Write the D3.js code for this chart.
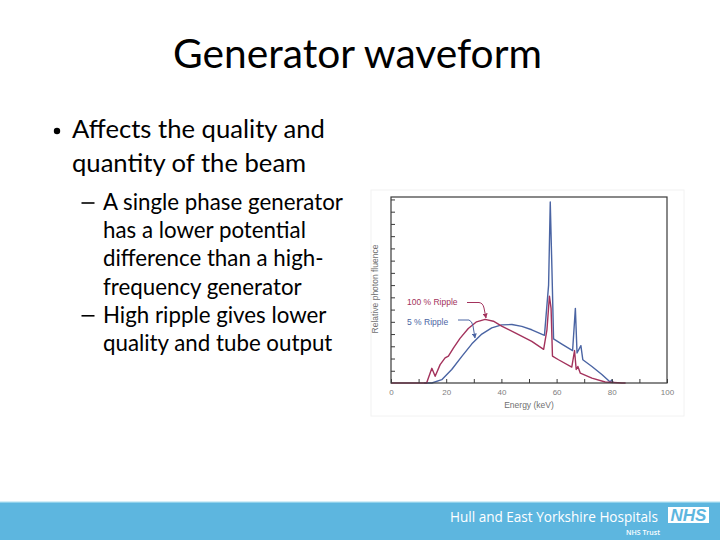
<!DOCTYPE html>
<html>
<head>
<meta charset="utf-8">
<script src="https://cdn.jsdelivr.net/npm/d3@7"></script>
<style>
  body { margin: 0; background: #fff; }
  svg { display: block; }
</style>
</head>
<body>
<div id="slide"></div>
<script>
// spectrum data: energy (keV) and relative fluence
const rippleFullKeV = [0, 12.9, 14.8, 16, 17.8, 19.6, 20.8, 22.6, 25, 28, 31, 34.1, 37.1, 40.1, 45, 51, 55.3,
  56.5, 57.4, 58, 58.5, 60.7, 65.5, 66.5, 67.1, 67.7, 68.6, 72.8, 77.6, 83.7, 85];
const rippleFullVal = [0, 0, 1.2, 0.55, 1.5, 2.05, 2.2, 2.85, 3.65, 4.45, 5.0, 5.2, 5.05, 4.65, 4.1, 3.4, 2.75,
  4.35, 7.1, 6.1, 2.2, 1.9, 1.3, 2.65, 1.1, 1.35, 0.8, 0.4, 0.08, 0, 0];

const rippleLowKeV = [12, 14.8, 18.4, 22, 25.6, 29.3, 32.9, 36.5, 40.1, 43.8, 47.4, 51, 55.6, 57.1, 57.7, 58.3,
  58.9, 61.9, 65.8, 66.8, 67.4, 68.8, 69.5, 72.8, 76.4, 79.4, 80, 80.6];
const rippleLowVal = [0, 0, 0.27, 1.1, 2.15, 3.2, 4.0, 4.5, 4.75, 4.78, 4.63, 4.35, 3.9, 8.0, 14.8, 9.4,
  3.6, 3.18, 2.65, 6.1, 2.45, 3.05, 1.9, 1.35, 0.7, 0.08, 0.25, 0];

const xTickValues = d3.range(0, 101, 10);
const xTickLabels = [0, 20, 40, 60, 80, 100];
const yTickValues = d3.range(1, 16, 1);

const titleText = "Generator waveform";
const bullet1 = ["Affects the quality and", "quantity of the beam"];
const sub1 = ["A single phase generator", "has a lower potential", "difference than a high-", "frequency generator"];
const sub2 = ["High ripple gives lower", "quality and tube output"];

const W = 720, H = 540;
const font = "Lato, 'Open Sans', sans-serif";

const svg = d3.select('#slide').append('svg')
  .attr('width', W)
  .attr('height', H);

// size a text element so it spans the width measured on the reference
function fit(sel, target) {
  const w = sel.node().getComputedTextLength();
  const fs = parseFloat(sel.attr('font-size'));
  sel.attr('font-size', (fs * target / w).toFixed(2));
  return sel;
}

// title
fit(svg.append('text')
  .attr('x', 357.5).attr('y', 68)
  .attr('text-anchor', 'middle')
  .attr('font-family', font).attr('font-size', 38)
  .attr('fill', '#000')
  .text(titleText), 369);

// first level bullet
svg.append('circle').attr('cx', 57).attr('cy', 131).attr('r', 3.2).attr('fill', '#000');
const b1 = bullet1.map((t, i) => svg.append('text')
  .attr('x', 72).attr('y', 138 + i * 34)
  .attr('font-family', font).attr('font-size', 24)
  .attr('fill', '#000').text(t));
fit(b1[0], 253);
b1[1].attr('font-size', b1[0].attr('font-size'));

// second level bullets
const subLines = [];
sub1.concat(sub2).forEach((t, i) => {
  subLines.push(svg.append('text')
    .attr('x', 103).attr('y', 210 + i * 28.2)
    .attr('font-family', font).attr('font-size', 21)
    .attr('fill', '#000').text(t));
});
fit(subLines[0], 240);
subLines.forEach(s => s.attr('font-size', subLines[0].attr('font-size')));
[0, 4].forEach(i => {
  svg.append('line')
    .attr('x1', 81.5).attr('x2', 94.5)
    .attr('y1', 210 + i * 28.2 - 7).attr('y2', 210 + i * 28.2 - 7)
    .attr('stroke', '#000').attr('stroke-width', 1.6);
});

// ---- chart ----
const x = d3.scaleLinear().domain([0, 100]).range([391, 667]);
const y = d3.scaleLinear().domain([0, 15.2]).range([383, 197]);

svg.append('rect')
  .attr('x', 371).attr('y', 190).attr('width', 313).attr('height', 226)
  .attr('fill', '#fff').attr('stroke', '#f2f2f2');

const chart = svg.append('g');

const line = d3.line().x(d => x(d[0])).y(d => y(d[1]));

chart.append('path')
  .datum(rippleLowKeV.map((k, i) => [k, rippleLowVal[i]]))
  .attr('d', line)
  .attr('fill', 'none').attr('stroke', '#4a64a3').attr('stroke-width', 1.4)
  .attr('stroke-linejoin', 'round');

chart.append('path')
  .datum(rippleFullKeV.map((k, i) => [k, rippleFullVal[i]]))
  .attr('d', line)
  .attr('fill', 'none').attr('stroke', '#a3325c').attr('stroke-width', 1.4)
  .attr('stroke-linejoin', 'round');

// frame
chart.append('rect')
  .attr('x', x(0)).attr('y', y(15.2))
  .attr('width', x(100) - x(0)).attr('height', y(0) - y(15.2))
  .attr('fill', 'none').attr('stroke', '#3a3a3a').attr('stroke-width', 1.2);

const xAxis = chart.append('g')
  .attr('transform', `translate(0,${y(0)})`)
  .call(d3.axisBottom(x).tickValues(xTickValues).tickSizeInner(-4).tickSizeOuter(0)
    .tickFormat(d => xTickLabels.includes(d) ? d : ''));
xAxis.select('.domain').remove();
xAxis.selectAll('.tick line').attr('stroke', '#3a3a3a');
xAxis.selectAll('.tick text')
  .attr('y', 6).attr('dy', '0.71em')
  .attr('font-family', "'Liberation Sans', Arial, sans-serif").attr('font-size', 8)
  .attr('fill', '#808080');

const yAxis = chart.append('g')
  .attr('transform', `translate(${x(0)},0)`)
  .call(d3.axisLeft(y).tickValues(yTickValues).tickSizeInner(-4).tickSizeOuter(0).tickFormat(''));
yAxis.select('.domain').remove();
yAxis.selectAll('.tick line').attr('stroke', '#3a3a3a');

chart.append('text')
  .attr('x', 529).attr('y', 408)
  .attr('text-anchor', 'middle')
  .attr('font-family', "'Liberation Sans', Arial, sans-serif").attr('font-size', 8.5)
  .attr('fill', '#707070').text('Energy (keV)');

chart.append('text')
  .attr('transform', 'translate(378,289) rotate(-90)')
  .attr('text-anchor', 'middle')
  .attr('font-family', "'Liberation Sans', Arial, sans-serif").attr('font-size', 8.5)
  .attr('fill', '#707070').text('Relative photon fluence');

// annotations with leader arrows
const defs = svg.append('defs');
[['arrRed', '#a3325c'], ['arrBlue', '#4a64a3']].forEach(([id, c]) => {
  defs.append('marker').attr('id', id)
    .attr('viewBox', '0 0 10 10').attr('refX', 9).attr('refY', 5)
    .attr('markerWidth', 5).attr('markerHeight', 5).attr('orient', 'auto')
    .append('path').attr('d', 'M0,0L10,5L0,10z').attr('fill', c);
});

chart.append('text')
  .attr('x', 407).attr('y', 305)
  .attr('font-family', "'Liberation Sans', Arial, sans-serif").attr('font-size', 8.5)
  .attr('fill', '#a3325c').text('100 % Ripple');
chart.append('path')
  .attr('d', 'M467,302.5 L479,302.5 Q483,303 484,308 L486,318')
  .attr('fill', 'none').attr('stroke', '#a3325c').attr('stroke-width', 1)
  .attr('marker-end', 'url(#arrRed)');

chart.append('text')
  .attr('x', 407).attr('y', 324.5)
  .attr('font-family', "'Liberation Sans', Arial, sans-serif").attr('font-size', 8.5)
  .attr('fill', '#4a64a3').text('5 % Ripple');
chart.append('path')
  .attr('d', 'M458,320 L469,320 Q472,321 473,326 L475,338')
  .attr('fill', 'none').attr('stroke', '#4a64a3').attr('stroke-width', 1)
  .attr('marker-end', 'url(#arrBlue)');

// ---- footer band ----
svg.append('rect').attr('x', 0).attr('y', 502).attr('width', W).attr('height', 38).attr('fill', '#5db6df');
svg.append('rect').attr('x', 0).attr('y', 501.5).attr('width', W).attr('height', 1.2).attr('fill', '#a9ddf0');

fit(svg.append('text')
  .attr('x', 450).attr('y', 522)
  .attr('font-family', "'Open Sans', sans-serif").attr('font-size', 14)
  .attr('fill', '#fff').text('Hull and East Yorkshire Hospitals'), 208);

svg.append('text')
  .attr('x', 660).attr('y', 535)
  .attr('text-anchor', 'end')
  .attr('font-family', "'Open Sans', sans-serif").attr('font-size', 7).attr('font-weight', 600)
  .attr('fill', '#fff').text('NHS Trust');

svg.append('rect').attr('x', 668).attr('y', 507).attr('width', 41).attr('height', 16).attr('fill', '#fff');
fit(svg.append('text')
  .attr('x', 688.5).attr('y', 521)
  .attr('text-anchor', 'middle')
  .attr('font-family', "'Liberation Sans', Arial, sans-serif").attr('font-size', 16)
  .attr('font-weight', 'bold').attr('font-style', 'italic')
  .attr('fill', '#5db6df').text('NHS'), 36);
</script>
</body>
</html>
